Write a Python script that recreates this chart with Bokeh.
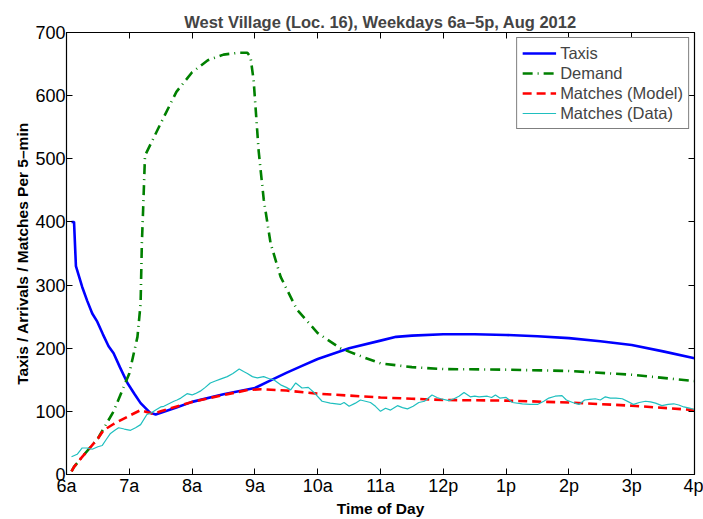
from bokeh.plotting import figure
from bokeh.models import LinearAxis, Legend, LegendItem, FixedTicker, Range1d
from bokeh.embed import file_html
from bokeh.resources import INLINE

# ---- data ----
x_tick_vals = [6, 7, 8, 9, 10, 11, 12, 13, 14, 15, 16]
x_tick_labels = ["6a", "7a", "8a", "9a", "10a", "11a", "12p", "1p", "2p", "3p", "4p"]
y_tick_vals = [0, 100, 200, 300, 400, 500, 600, 700]

taxis_h = [6.08, 6.12, 6.15, 6.25, 6.33, 6.41, 6.49, 6.58, 6.67, 6.75, 6.85, 6.97, 7.08, 7.18, 7.33, 7.42,
           7.75, 8.0, 8.5, 9.0, 9.25, 9.5, 9.75, 10.0, 10.5, 11.0, 11.25, 11.5, 12.0, 12.5, 13.0, 13.5,
           14.0, 14.5, 15.0, 15.5, 16.0]
taxis_v = [400, 400, 330, 297, 275, 255, 242, 222, 203, 192, 170, 145, 128, 113, 98, 95,
           106, 115, 127, 137, 149, 161, 172, 183, 200, 212, 218, 220, 222, 222, 221, 219,
           216, 211, 205, 195, 184]

demand_h = [6.08, 6.12, 6.25, 6.5, 6.75, 7.0, 7.13, 7.18, 7.2, 7.22, 7.25, 7.5, 7.75, 8.0, 8.25, 8.5,
            8.75, 8.88, 8.93, 8.98, 9.06, 9.14, 9.25, 9.41, 9.67, 10.0, 10.36, 10.75, 11.0, 11.5,
            12.0, 13.0, 14.0, 15.0, 16.0]
demand_v = [5, 12, 28, 57, 100, 160, 218, 271, 366, 419, 505, 556, 606, 637, 656, 665,
            668, 668, 661, 624, 512, 436, 366, 313, 261, 224, 200, 185, 176, 170,
            167, 166, 164, 158, 148]

model_h = [6.08, 6.12, 6.25, 6.5, 6.59, 6.75, 7.0, 7.18, 7.38, 7.5, 8.0, 8.5, 8.9, 9.1, 9.5, 10.0,
           10.5, 11.0, 11.5, 12.0, 13.0, 14.0, 15.0, 16.0]
model_v = [5, 12, 28, 57, 70, 80, 93, 102, 96, 100, 115, 126, 134, 135, 133, 128,
           125, 122, 120, 118, 117, 114, 109, 102]

data_h = [6.08, 6.17, 6.25, 6.33, 6.41, 6.5, 6.57, 6.63, 6.70, 6.77, 6.83, 6.92, 7.02, 7.1, 7.18, 7.28,
          7.34, 7.42, 7.5, 7.55, 7.63, 7.71, 7.76, 7.82, 7.92, 8.0, 8.05, 8.13, 8.21, 8.29, 8.37, 8.45,
          8.56, 8.65, 8.75, 8.82, 8.88, 8.96, 9.04, 9.14, 9.22, 9.30, 9.41, 9.5, 9.57, 9.65, 9.75, 9.85,
          9.95, 10.07, 10.2, 10.36, 10.42, 10.5, 10.6, 10.68, 10.76, 10.84, 10.92, 11.0, 11.08, 11.16,
          11.27, 11.35, 11.43, 11.52, 11.61, 11.7, 11.82, 11.9, 11.96, 12.09, 12.17, 12.25, 12.33, 12.43,
          12.5, 12.57, 12.70, 12.77, 12.83, 12.9, 13.0, 13.1, 13.26, 13.38, 13.5, 13.6, 13.68, 13.78,
          13.89, 13.96, 14.06, 14.16, 14.25, 14.33, 14.42, 14.5, 14.58, 14.66, 14.75, 14.85, 14.95,
          15.03, 15.12, 15.22, 15.3, 15.38, 15.48, 15.58, 15.67, 15.75, 15.83, 15.92, 16.0]
data_v = [28, 32, 42, 42, 40, 44, 46, 55, 65, 70, 74, 72, 70, 74, 79, 95,
          97, 102, 107, 108, 112, 116, 118, 121, 128, 126, 128, 132, 138, 145, 148, 151,
          155, 160, 167, 163, 160, 155, 153, 155, 152, 150, 142, 138, 134, 145, 137, 138,
          129, 116, 113, 111, 114, 108, 113, 118, 116, 114, 108, 100, 105, 102,
          109, 106, 104, 108, 114, 116, 126, 122, 120, 117, 120, 124, 130, 123,
          124, 123, 124, 122, 126, 121, 122, 114, 112, 111, 111, 116, 121, 124,
          125, 118, 114, 111, 118, 119, 120, 118, 123, 121, 121, 120, 115,
          111, 114, 116, 115, 113, 109, 111, 112, 110, 107, 105, 103]

FONT = "Liberation Sans"

p = figure(width=703, height=519, output_backend="svg", toolbar_location=None,
           x_range=Range1d(6, 16), y_range=Range1d(0, 700),
           min_border_left=66, min_border_right=9, min_border_top=32, min_border_bottom=44)
p.title.text = "West Village (Loc. 16), Weekdays 6a–5p, Aug 2012"
p.title.align = "center"
p.title.text_font = FONT
p.title.text_font_size = "16.5px"
p.title.text_font_style = "bold"
p.title.offset = 0
p.title.standoff = 3

p.xgrid.visible = False
p.ygrid.visible = False
p.outline_line_color = "black"
p.outline_line_width = 1.2
p.background_fill_color = "white"
p.border_fill_color = "white"

xt = FixedTicker(ticks=x_tick_vals)
yt = FixedTicker(ticks=y_tick_vals)
overrides = {v: l for v, l in zip(x_tick_vals, x_tick_labels)}

for ax in p.xaxis:
    ax.ticker = xt
    ax.major_label_overrides = overrides
for ax in p.yaxis:
    ax.ticker = yt

for ax in list(p.xaxis) + list(p.yaxis):
    ax.major_tick_in = 6
    ax.major_tick_out = 0
    ax.minor_tick_line_color = None
    ax.axis_line_color = "black"
    ax.major_tick_line_color = "black"
    ax.major_label_text_font = FONT
    ax.major_label_text_font_size = "18px"
    ax.major_label_text_color = "black"
    ax.axis_label_text_font = FONT
    ax.axis_label_text_font_size = "15.5px"
    ax.axis_label_text_font_style = "bold"
    ax.axis_label_text_color = "black"
    ax.major_label_standoff = 1
    ax.axis_label_standoff = 1

p.xaxis.axis_label = "Time of Day"
p.yaxis.axis_label = "Taxis / Arrivals / Matches Per 5–min"

top = LinearAxis(ticker=xt, major_label_text_color=None, major_label_text_font_size="1px",
                 major_tick_in=6, major_tick_out=0, minor_tick_line_color=None, major_label_standoff=0)
right = LinearAxis(ticker=yt, major_label_text_color=None, major_label_text_font_size="1px",
                   major_tick_in=6, major_tick_out=0, minor_tick_line_color=None, major_label_standoff=0)
p.add_layout(top, "above")
p.add_layout(right, "right")

r_taxi = p.line(taxis_h, taxis_v, line_color="#0000ff", line_width=2.6)
r_dem = p.line(demand_h, demand_v, line_color="#008000", line_width=2.6, line_dash="10 5 1 5")
r_mod = p.line(model_h, model_v, line_color="#ff0000", line_width=2.6, line_dash="9 5")
r_dat = p.line(data_h, data_v, line_color="#1fbfbf", line_width=1.2)

legend = Legend(items=[
    LegendItem(label="Taxis", renderers=[r_taxi]),
    LegendItem(label="Demand", renderers=[r_dem]),
    LegendItem(label="Matches (Model)", renderers=[r_mod]),
    LegendItem(label="Matches (Data)", renderers=[r_dat]),
], location="top_right")
legend.label_text_font = FONT
legend.label_text_font_size = "16.5px"
legend.label_standoff = 4
legend.glyph_width = 34
legend.glyph_height = 20
legend.spacing = 0
legend.padding = 5
legend.margin = 5
legend.border_line_color = "black"
legend.border_line_width = 1
legend.background_fill_alpha = 1
legend.label_height = 20
p.add_layout(legend)

open("out.html", "w").write(file_html(p, INLINE))
